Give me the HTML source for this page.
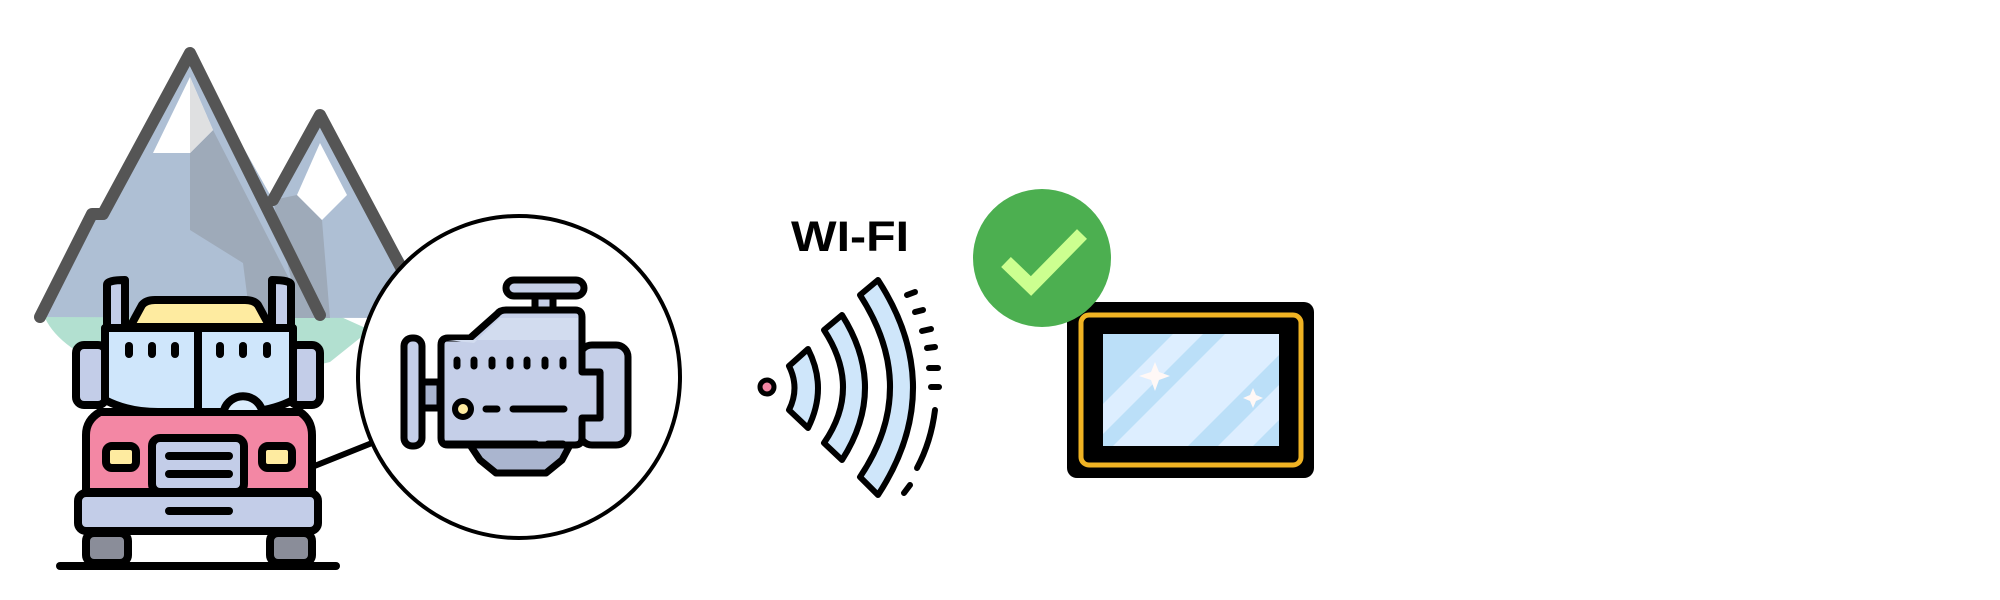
<!DOCTYPE html>
<html><head><meta charset="utf-8"><style>html,body{margin:0;padding:0;background:#fff;width:2000px;height:600px;overflow:hidden}svg{display:block}</style></head>
<body>
<svg width="2000" height="600" viewBox="0 0 2000 600" xmlns="http://www.w3.org/2000/svg">
<defs>
<clipPath id="scr"><rect x="1103" y="334" width="176" height="112"/></clipPath>
</defs>
<!-- ground -->
<path d="M45,318 Q60,350 120,372 Q200,395 330,362 L370,330 L330,312 L45,316 Z" fill="#b2e0d0"/>
<!-- mountains fill -->
<path d="M40,317 L92,214 L103,214 L190,53 L273,200 L320,115 L410,270 L400,318 Z" fill="#aebfd4"/>
<path d="M190,153 L213,130 L300,300 L320,318 L250,318 L243,263 L190,230 Z" fill="#9eaab9"/>
<path d="M273,200 L297,195 L322,220 L330,318 L300,318 Z" fill="#9eaab9"/>
<path d="M190,77 L153,153 L190,153 L213,130 Z" fill="#ffffff"/>
<path d="M190,77 L213,130 L190,153 Z" fill="#dfe0e1"/>
<path d="M320,143 L297,195 L322,220 L347,195 Z" fill="#ffffff"/>
<path d="M40,317 L92,214 L103,214 L190,53 L320,315 M273,200 L320,115 L405,275" fill="none" stroke="#555" stroke-width="12" stroke-linejoin="round" stroke-linecap="round"/>
<!-- connector -->
<line x1="312" y1="467" x2="372" y2="443" stroke="#000" stroke-width="6"/>
<!-- circle -->
<circle cx="519" cy="377" r="161" fill="#fff" stroke="#000" stroke-width="4"/>
<!-- truck -->
<g stroke="#000" stroke-width="8" stroke-linejoin="round" stroke-linecap="round">
<rect x="86" y="533" width="42" height="30" rx="8" fill="#8a8d99"/>
<rect x="270" y="533" width="42" height="30" rx="8" fill="#8a8d99"/>
<rect x="76" y="345" width="30" height="60" rx="8" fill="#c3cde8"/>
<rect x="290" y="345" width="30" height="60" rx="8" fill="#c3cde8"/>
<path d="M86,492 L86,435 Q86,420 100,412 L300,412 Q312,420 312,435 L312,492 Z" fill="#f387a4"/>
<path d="M130,327 L142,305 Q146,300 155,300 L245,300 Q254,300 258,305 L270,327 Z" fill="#feeba0"/>
<path d="M107,285 Q107,280 125,280 L125,328 L107,328 Z" fill="#c3cde8"/>
<path d="M291,285 Q291,280 272,280 L272,328 L291,328 Z" fill="#c3cde8"/>
<path d="M105,328 L293,328 L293,400 Q270,412 240,412 L158,412 Q128,412 105,400 Z" fill="#cfe6fb"/>
<line x1="198" y1="330" x2="198" y2="410"/>
<path d="M224,410 A20,20 0 0 1 262,410" fill="#dcedfd"/>
<rect x="152" y="438" width="92" height="54" rx="8" fill="#c3cde8"/>
<rect x="106" y="446" width="30" height="22" rx="6" fill="#feeba0"/>
<rect x="262" y="446" width="30" height="22" rx="6" fill="#feeba0"/>
<rect x="78" y="493" width="240" height="38" rx="8" fill="#c3cde8"/>
</g>
<g stroke="#000" stroke-width="8" stroke-linecap="round">
<line x1="129" y1="346" x2="129" y2="354"/><line x1="152" y1="346" x2="152" y2="354"/><line x1="175" y1="346" x2="175" y2="354"/>
<line x1="220" y1="346" x2="220" y2="354"/><line x1="243" y1="346" x2="243" y2="354"/><line x1="267" y1="346" x2="267" y2="354"/>
<line x1="222" y1="328" x2="226" y2="328"/><line x1="236" y1="328" x2="256" y2="328"/>
<line x1="169" y1="456" x2="229" y2="456"/><line x1="169" y1="474" x2="229" y2="474"/>
<line x1="169" y1="511" x2="229" y2="511"/>
<line x1="60" y1="566" x2="336" y2="566"/>
</g>
<!-- engine -->
<g stroke="#000" stroke-width="7" stroke-linejoin="round" stroke-linecap="round">
<rect x="506" y="280" width="78" height="16" rx="8" fill="#c5cfe8"/>
<rect x="535" y="296" width="18" height="14" fill="#c5cfe8"/>
<rect x="404" y="338" width="18" height="108" rx="8" fill="#c5cfe8"/>
<rect x="422" y="382" width="18" height="26" fill="#aab5cf"/>
<path d="M470,445 L570,445 L562,460 L546,473 L496,473 L480,460 Z" fill="#aab5cf"/>
<rect x="580" y="345" width="48" height="100" rx="12" fill="#c5cfe8"/>
<rect x="580" y="372" width="24" height="46" fill="#aab5cf" stroke="none"/>
<path d="M441,345 Q441,338 448,338 L470,338 L497,314 Q500,310 506,310 L575,310 Q582,310 582,317 L582,372 L600,372 L600,418 L582,418 L582,438 Q582,445 575,445 L448,445 Q441,445 441,438 Z" fill="#c5cfe8"/>
</g>
<path d="M474,343 L500,318 L578,318 L578,340 L448,340 Z" fill="#d2dcef"/>
<g stroke="#000" stroke-width="7" stroke-linecap="round">
<line x1="457" y1="360" x2="457" y2="366"/><line x1="474" y1="360" x2="474" y2="366"/><line x1="492" y1="360" x2="492" y2="366"/><line x1="510" y1="360" x2="510" y2="366"/><line x1="527" y1="360" x2="527" y2="366"/><line x1="545" y1="360" x2="545" y2="366"/><line x1="563" y1="360" x2="563" y2="366"/>
<line x1="486" y1="409" x2="497" y2="409"/><line x1="513" y1="409" x2="564" y2="409"/>
<line x1="445" y1="444" x2="536" y2="444"/><line x1="548" y1="444" x2="563" y2="444"/>
</g>
<circle cx="463" cy="409" r="8" fill="#feeba0" stroke="#000" stroke-width="6"/>
<!-- wifi text -->
<text x="791" y="251" font-family="Liberation Sans, sans-serif" font-weight="bold" font-size="43" textLength="118" lengthAdjust="spacingAndGlyphs">WI-FI</text>
<!-- wifi icon -->
<circle cx="767" cy="387" r="7" fill="#f387a4" stroke="#000" stroke-width="5"/>
<g stroke="#000" stroke-width="6" stroke-linejoin="round" fill="#cfe6fa">
<path d="M789,366 L808,349 Q828,388 808,428 L789,410 Q800,388 789,366 Z"/>
<path d="M824,330 L842,315 Q888,388 842,460 L824,443 Q862,388 824,330 Z"/>
<path d="M860,295 L878,280 Q948,388 878,495 L860,477 Q920,388 860,295 Z"/>
</g>
<g stroke="#000" stroke-width="6" stroke-linecap="round" fill="none">
<line x1="907" y1="295" x2="915" y2="292"/><line x1="915" y1="312" x2="923" y2="310"/><line x1="922" y1="331" x2="931" y2="329"/><line x1="927" y1="348" x2="935" y2="347"/><line x1="929" y1="368" x2="938" y2="368"/><line x1="931" y1="387" x2="939" y2="387"/>
<path d="M935,410 Q931,442 917,468"/>
<line x1="910" y1="485" x2="904" y2="493"/>
</g>
<!-- tablet -->
<rect x="1067" y="302" width="247" height="176" rx="10" fill="#000"/>
<rect x="1081" y="315" width="220" height="150" rx="8" fill="none" stroke="#f0b323" stroke-width="5"/>
<rect x="1103" y="334" width="176" height="112" fill="#ddeeff"/>
<g clip-path="url(#scr)" fill="#bbdff8">
<polygon points="1103,334 1173,334 1103,404"/>
<polygon points="1103,434 1203,334 1225,334 1103,456"/>
<polygon points="1188,446 1300,334 1330,334 1218,446"/>
<polygon points="1279,420 1279,446 1253,446"/>
</g>
<path d="M1155,362 L1159,372 L1170,376 L1159,380 L1155,391 L1151,380 L1139,376 L1151,372 Z" fill="#fff8f6"/>
<path d="M1253,388 L1256,395 L1263,398 L1256,401 L1253,408 L1250,401 L1243,398 L1250,395 Z" fill="#fff8f6"/>
<!-- check -->
<circle cx="1042" cy="258" r="69" fill="#4caf50"/>
<polyline points="1006,262 1031,286 1082,234" fill="none" stroke="#ccff90" stroke-width="14"/>
</svg>
</body></html>
